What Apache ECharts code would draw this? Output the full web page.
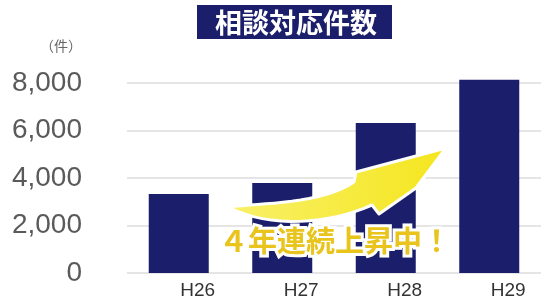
<!DOCTYPE html>
<html>
<head>
<meta charset="utf-8">
<script src="https://cdn.jsdelivr.net/npm/echarts@6/dist/echarts.min.js"></script>
<style>
html, body { margin: 0; padding: 0; background: #fff; }
#main { width: 541px; height: 303px; }
</style>
</head>
<body>
<div id="main"></div>
<script>
// 相談対応件数 (H26〜H29)
var years = ['H26', 'H27', 'H28', 'H29'];
var counts = [3330, 3790, 6320, 8140];
var yTicks = [0, 2000, 4000, 6000, 8000];

var navy = '#1b1e6b';
var labelFont = '"Liberation Sans", Arial, sans-serif';
var jpFont = '"Noto Sans CJK JP", sans-serif';

// 3次ベジェを点列にする（矢印の輪郭用）
function bez(p0, p1, p2, p3, n) {
    var pts = [];
    for (var i = 0; i <= n; i++) {
        var t = i / n, u = 1 - t;
        pts.push([
            u * u * u * p0[0] + 3 * u * u * t * p1[0] + 3 * u * t * t * p2[0] + t * t * t * p3[0],
            u * u * u * p0[1] + 3 * u * u * t * p1[1] + 3 * u * t * t * p2[1] + t * t * t * p3[1]
        ]);
    }
    return pts;
}
var arrowPts = bez([228, 207], [262, 203], [322, 204], [354, 182], 16)
    .concat([[356, 172], [446, 148], [416, 188], [379, 214]])
    .concat(bez([372, 205], [330, 224], [270, 229], [228, 207], 16));

var chart = echarts.init(document.getElementById('main'));

var option = {
    animation: false,
    backgroundColor: '#fff',
    grid: {
        left: 127,
        right: 0,
        top: 83,
        bottom: 30
    },
    xAxis: {
        type: 'category',
        data: years,
        axisLine: { show: false },
        axisTick: { show: false },
        axisLabel: {
            margin: 8,
            fontFamily: labelFont,
            fontSize: 19,
            color: '#333',
            padding: [0, 0, 0, 38]
        }
    },
    yAxis: {
        type: 'value',
        min: yTicks[0],
        max: yTicks[yTicks.length - 1],
        interval: yTicks[1] - yTicks[0],
        axisLine: { show: false },
        axisTick: { show: false },
        splitLine: { lineStyle: { color: '#dcdcdc', width: 1.5 } },
        axisLabel: {
            margin: 45,
            fontFamily: labelFont,
            fontSize: 28,
            color: '#5a5a5a',
            formatter: function (v) { return v.toLocaleString('en-US'); }
        }
    },
    series: [{
        type: 'bar',
        data: counts,
        barWidth: 60,
        clip: false,
        itemStyle: { color: navy }
    }],
    graphic: [
        // タイトル
        {
            type: 'rect',
            shape: { x: 197, y: 5, width: 195, height: 34 },
            style: { fill: navy }
        },
        {
            type: 'text',
            x: 296, y: 23,
            style: {
                text: '相談対応件数',
                fill: '#fff',
                font: 'bold 27px ' + jpFont,
                align: 'center',
                verticalAlign: 'middle'
            }
        },
        // 単位
        {
            type: 'text',
            x: 82, y: 46,
            style: {
                text: '（件）',
                fill: '#666',
                font: '14px ' + jpFont,
                align: 'right',
                verticalAlign: 'middle'
            }
        },
        // 矢印
        {
            type: 'polygon',
            z: 10,
            shape: { points: arrowPts },
            style: {
                fill: {
                    type: 'linear', x: 0, y: 0, x2: 1, y2: 0,
                    colorStops: [
                        { offset: 0, color: '#f8f06a' },
                        { offset: 1, color: '#f5e61e' }
                    ]
                },
                stroke: '#fff',
                lineWidth: 3,
                lineJoin: 'round'
            }
        },
        {
            type: 'text',
            z: 11,
            x: 335, y: 241,
            style: {
                text: '４年連続上昇中！',
                fill: '#e8c41c',
                stroke: '#fff',
                lineWidth: 6,
                font: 'bold 29px ' + jpFont,
                align: 'center',
                verticalAlign: 'middle'
            }
        }
    ]
};

chart.setOption(option);
</script>
</body>
</html>
